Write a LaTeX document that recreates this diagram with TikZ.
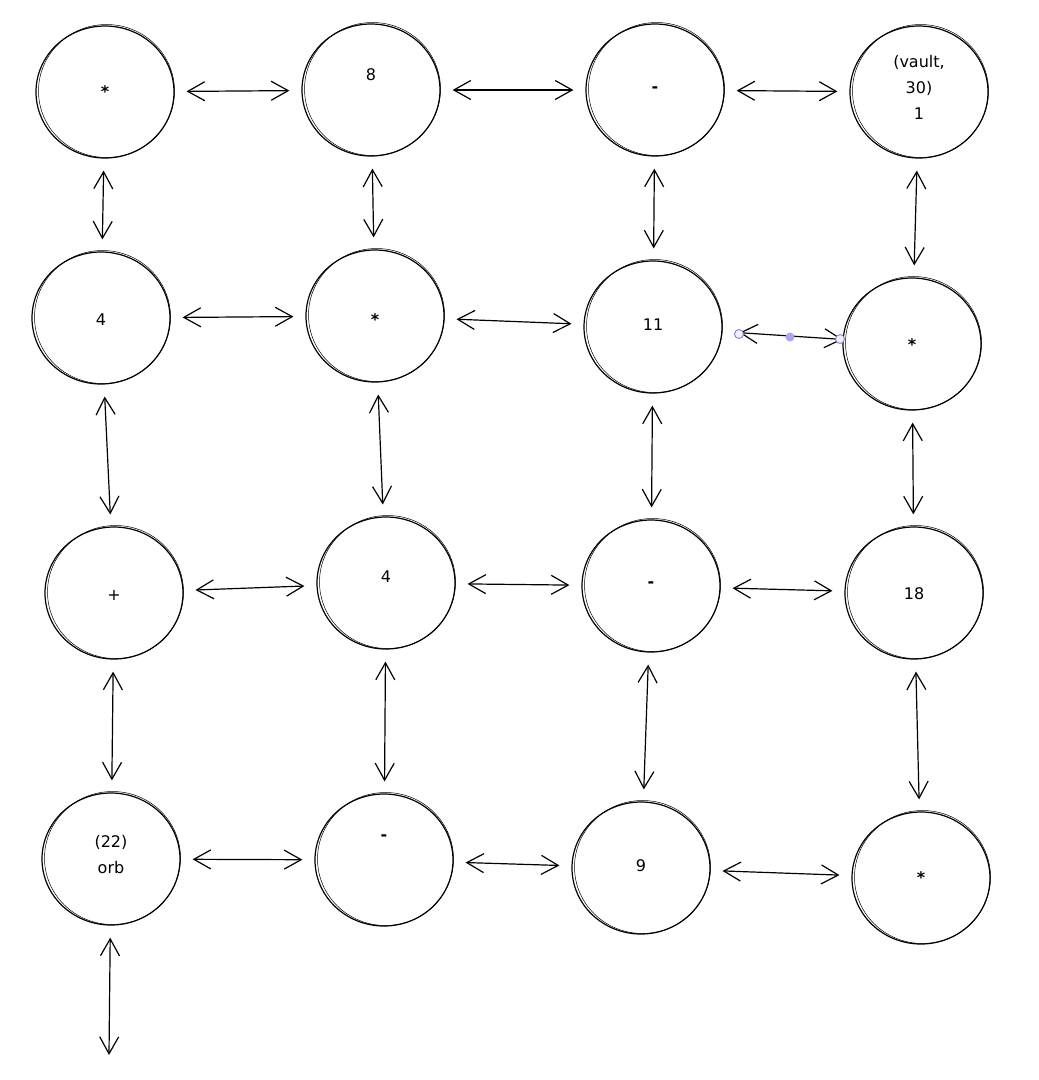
\documentclass[tikz,border=0pt]{standalone}
\usepackage{fontspec}
\setmainfont{DejaVu Sans}
\usetikzlibrary{arrows.meta,shapes.geometric}
\definecolor{handleline}{RGB}{122,114,214}
\definecolor{handlefill}{RGB}{240,240,255}
\definecolor{handledot}{RGB}{172,164,238}
\newcommand\opmul{\textbf{*}}
\newcommand\opsub{\textbf{-}}
\begin{document}
\begin{tikzpicture}[x=1pt,y=-1pt,
  cnode/.style={ellipse, draw, line width=1.2pt, minimum width=138pt, minimum height=132pt, inner sep=0pt},
  ring2/.style={line width=0.5pt},
  txt/.style={font=\fontsize{16}{26}\selectfont, align=center, inner sep=1pt},
  link/.style={line width=1.2pt,
    {Straight Barb[length=17pt,width=19pt]}-{Straight Barb[length=17pt,width=19pt]},
    shorten <=12pt, shorten >=12pt},
  handle/.style={circle, draw=handleline, fill=handlefill, line width=0.8pt, minimum size=9pt, inner sep=0pt},
  middot/.style={circle, fill=handledot, minimum size=9pt, inner sep=0pt}
]
\useasboundingbox (0,0) rectangle (1039,1080);

% bubble: name, x, y, text, lift of the text above the centre
\newcommand\bubble[5]{%
  \node[cnode] (#1) at (#2,#3) {};
  \draw[ring2] (#2+1.5,#3-1) ellipse [x radius=68pt, y radius=66.5pt];
  \node[txt] (#1t) at (#2,#3-#5) {#4};
}

% row 1
\bubble{n11}{105}{92}{\opmul}{0}
\bubble{n12}{371}{90}{8}{15}
\bubble{n13}{655}{90}{\opsub}{0}
\bubble{n14}{919}{92}{(vault,\\30)\\1}{5}
% row 2
\bubble{n21}{101}{318}{4}{-2}
\bubble{n22}{375}{316}{\opmul}{-4}
\bubble{n23}{653}{327}{11}{2}
\bubble{n24}{912}{344}{\opmul}{-1}
% row 3
\bubble{n31}{114}{593}{+}{-2}
\bubble{n32}{386}{583}{4}{6}
\bubble{n33}{651}{586}{\opsub}{1}
\bubble{n34}{914}{593}{18}{-1}
% row 4
\bubble{n41}{111}{859}{(22)\\orb}{4}
\bubble{n42}{384}{860}{\opsub}{22}
\bubble{n43}{641}{868}{9}{2}
\bubble{n44}{921}{878}{\opmul}{0}

\coordinate (tail) at (109,1055);

% horizontal links
\draw[link] (n11) -- (n12);
\draw[link] (n12) -- (n13);
\draw[link] (n13) -- (n14);
\draw[link] (n21) -- (n22);
\draw[link] (n22) -- (n23);
\draw[link, shorten <=17pt, shorten >=0pt] (n23) -- (n24);
\draw[link] (n31) -- (n32);
\draw[link] (n32) -- (n33);
\draw[link] (n33) -- (n34);
\draw[link] (n41) -- (n42);
\draw[link] (n42) -- (n43);
\draw[link] (n43) -- (n44);

% vertical links
\draw[link] (n11) -- (n21);
\draw[link] (n21) -- (n31);
\draw[link] (n31) -- (n41);
\draw[link, shorten >=0pt] (n41) -- (tail);
\draw[link] (n12) -- (n22);
\draw[link] (n22) -- (n32);
\draw[link] (n32) -- (n42);
\draw[link] (n13) -- (n23);
\draw[link] (n23) -- (n33);
\draw[link] (n33) -- (n43);
\draw[link] (n14) -- (n24);
\draw[link] (n24) -- (n34);
\draw[link] (n34) -- (n44);

% selection handles on the 11 -- * link
\node[handle] (h1) at (739,334) {};
\node[middot] (hm) at (790,337) {};
\node[handle] (h2) at (840,339) {};
\end{tikzpicture}
\end{document}
